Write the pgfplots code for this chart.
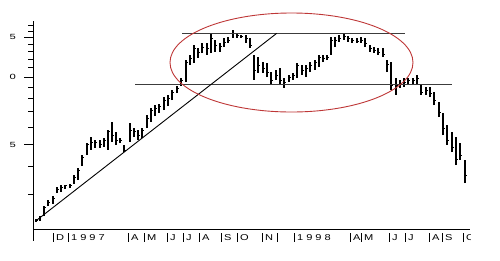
\documentclass[border=0pt]{standalone}
\usepackage{pgfplots}
\pgfplotsset{compat=1.18}
\usepackage{pgfplotstable}
\usepackage{fontspec}
\setmainfont{Liberation Sans}
\newfontfamily\xlabfont[FakeStretch=1.3]{Liberation Sans}
\newfontfamily\ylabfont[FakeStretch=1.5]{Liberation Sans}
\newcommand\yr[1]{{\addfontfeature{LetterSpace=35}#1}}
\definecolor{ellred}{RGB}{190,55,55}
\definecolor{lvl}{RGB}{60,60,60}

% weekly bars: x position, high, low, close
\pgfplotstableread{
x hi lo cl
36 2.34 2.27 2.31
40 2.41 2.29 2.39
44 2.67 2.41 2.62
48 2.84 2.67 2.78
53 2.96 2.73 2.90
57 3.24 3.05 3.18
61 3.31 3.08 3.24
65 3.31 3.18 3.28
70 3.34 3.21 3.31
74 3.67 3.34 3.59
78 3.94 3.48 3.86
82 4.50 4.02 4.41
87 5.09 4.50 4.99
91 5.41 4.74 5.14
95 5.25 4.84 5.14
100 5.25 4.84 5.04
104 5.36 4.89 5.25
108 5.81 4.74 5.70
112 6.31 5.14 5.52
116 5.70 4.99 5.25
120 5.36 5.09 5.25
124 4.99 4.64 4.74
130 6.25 5.14 5.81
134 5.93 5.41 5.70
138 5.81 5.25 5.52
142 5.93 5.36 5.81
147 6.78 5.93 6.57
151 7.28 6.31 7.13
155 7.51 6.71 7.28
159 7.59 6.92 7.43
164 8.15 7.13 7.90
168 8.32 7.43 8.07
172 8.75 7.90 8.58
177 9.12 8.49 8.94
181 9.90 9.12 9.70
186 11.90 9.50 11.66
190 12.53 11.31 12.15
194 13.88 11.54 13.46
198 13.46 12.15 12.92
202 14.17 12.78 13.59
207 14.17 12.53 13.46
211 15.69 12.78 14.91
215 14.61 12.92 13.88
220 14.17 12.92 13.74
224 14.91 13.59 14.31
228 15.06 14.17 14.61
233 16.18 14.91 15.69
237 15.69 14.91 15.37
241 15.37 14.91 15.22
246 15.37 14.17 14.91
250 14.91 13.46 13.88
254 12.53 9.70 10.74
258 12.27 10.42 11.31
263 11.66 10.42 10.96
267 11.54 10.00 10.52
271 10.52 9.21 9.70
276 10.74 9.70 10.21
280 10.96 9.21 9.70
284 9.90 8.94 9.50
289 10.21 9.50 10.00
293 10.42 9.70 10.21
297 11.54 9.90 11.31
302 11.31 10.21 10.74
306 11.31 10.00 10.96
310 11.66 10.52 11.31
315 11.90 10.74 11.66
319 12.53 11.08 12.27
323 12.53 11.66 12.15
327 12.53 11.90 12.27
331 15.06 12.53 14.61
335 15.06 13.59 14.61
339 15.37 14.31 14.91
344 15.69 14.61 15.22
348 15.22 14.31 14.91
352 14.91 14.17 14.61
357 14.91 14.17 14.45
361 15.06 14.17 14.61
365 14.91 13.59 14.17
370 13.88 12.92 13.46
374 13.59 12.78 13.18
378 13.46 12.53 12.92
383 13.46 12.27 12.65
387 11.90 10.52 11.42
391 11.66 8.75 9.21
396 9.90 8.32 9.21
400 9.70 8.94 9.40
404 9.90 9.03 9.50
408 9.90 9.21 9.70
413 9.90 9.21 9.70
417 10.21 9.21 9.90
421 9.21 8.32 8.58
426 9.03 8.32 8.75
430 9.03 8.15 8.49
434 8.58 7.51 7.90
439 7.74 6.64 6.99
443 6.92 5.52 5.93
447 6.12 4.99 5.25
452 5.70 4.64 4.84
456 5.41 4.06 4.28
460 5.09 4.28 4.50
465 4.28 3.38 3.67
}\bars

\begin{document}
\begin{tikzpicture}
\useasboundingbox (0,0) rectangle (500pt,260pt);
\begin{scope}
\clip (0,0) rectangle (470.5pt,260pt);
\begin{axis}[
  at={(33pt,31pt)}, anchor=south west,
  scale only axis, width=437pt, height=207.5pt,
  xmin=33, xmax=470,
  ymode=log, ymin=2.111, ymax=17.65,
  axis x line*=bottom, axis y line*=left,
  axis line style={black, line width=0.8pt, -},
  clip=false,
  tick align=outside,
  major tick length=9pt, minor tick length=5pt,
  xtick={53,68,128,144,167,183,199,221,237,262,277,294,350,361,389,405,429,442,463},
  xticklabels={D,\yr{1997},A,M,J,J,A,S,O,N,,\yr{1998},A,M,J,J,A,S,O},
  xtick style={black, line width=0.8pt, yshift=-4pt},
  xticklabel style={font=\xlabfont\fontsize{8.5pt}{9pt}\selectfont, anchor=north west, inner sep=0pt, xshift=3pt, yshift=4pt},
  ytick={5,10,15}, yticklabels={5,0,5},
  minor ytick={3,4,6,7,8,9,11,12,13,14,16,17},
  ytick style={black, line width=0.8pt},
  yticklabel style={font=\ylabfont\fontsize{7.5pt}{8pt}\selectfont, anchor=east, inner sep=0pt, xshift=-8pt},
]
% price bars (high-low)
\addplot[draw=none, mark=none,
  error bars/.cd, y dir=plus, y explicit, error mark=none,
  error bar style={draw=black, line width=1.4pt}]
  table[x=x, y=lo, y error expr=\thisrow{hi}-\thisrow{lo}] {\bars};
% close ticks
\addplot[draw=none, mark=none,
  error bars/.cd, x dir=plus, x explicit, error mark=none,
  error bar style={draw=black, line width=0.9pt}]
  table[x=x, y=cl, x error expr=2.2] {\bars};
% resistance / support levels
\addplot[lvl, line width=0.7pt] coordinates {(182,15.64) (405,15.64)};
\addplot[lvl, line width=0.7pt] coordinates {(135,9.28) (452,9.28)};
% trend line
\addplot[black, line width=0.9pt] coordinates {(36.7,2.31) (276.7,15.64)};
% ellipse
\draw[ellred, line width=0.9pt] (axis cs:291.5,11.60) ellipse [x radius=121.5pt, y radius=49.5pt];
\end{axis}
\draw[black, line width=0.8pt] (33pt,31pt) -- (33pt,19pt);
\end{scope}
\end{tikzpicture}
\end{document}
